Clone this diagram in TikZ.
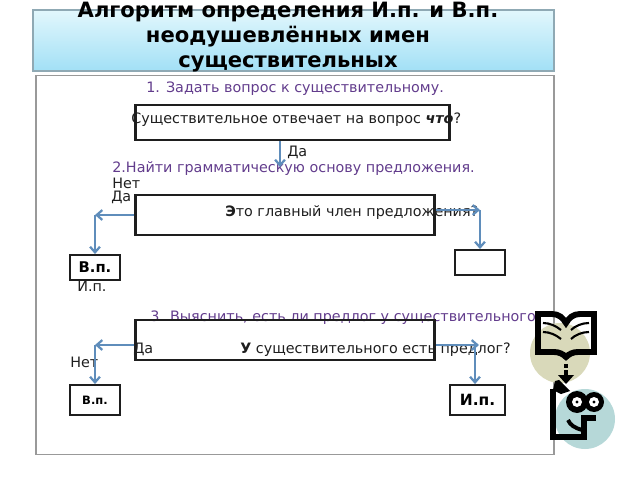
\documentclass[tikz,border=0pt]{standalone}
\usepackage{fontspec}
\setmainfont{DejaVu Sans}
\usetikzlibrary{arrows.meta}
\definecolor{stepcol}{HTML}{623C8C}
\definecolor{flowcol}{HTML}{5F8DBB}
\definecolor{inkcol}{HTML}{1E1E1E}
\definecolor{headtop}{HTML}{E2F7FC}
\definecolor{headbot}{HTML}{A2E0F6}
\definecolor{headedge}{HTML}{8FA9B4}
\definecolor{bookdisc}{HTML}{D9D9BA}
\definecolor{facedisc}{HTML}{B6D8D8}
\tikzset{
    frbox/.style = {draw = inkcol, line width = 1.8pt, minimum width = #1, minimum height = 35 * 0.7087pt, inner sep = 0pt},
    steptext/.style = {text = stepcol, font = \fontsize{10.2}{12}\selectfont, inner sep = 0pt, anchor = west, yshift = -1pt},
    lbl/.style = {text = inkcol, font = \fontsize{10.2}{12}\selectfont, inner sep = 0pt, anchor = west, yshift = -1pt},
    flow/.style = {draw = flowcol, line width = 1.6pt, -{Straight Barb[length = 4pt, width = 7pt]}}
}
\begin{document}
\begin{tikzpicture}[x = 0.025cm, y = -0.025cm, align = center]
    \useasboundingbox (0, 0) rectangle (640, 480);
    \node[minimum width = 523 * 0.7087pt, minimum height = 61 * 0.7087pt, draw = headedge, line width = 1.1pt, top color = headtop, bottom color = headbot, inner sep = 0pt] (header) at (293.5, 40.5) {};
    \node[minimum width = 520 * 0.7087pt, minimum height = 380 * 0.7087pt, draw = gray!80, line width = 0.9pt, inner sep = 0pt] (panel) at (295, 265) {};
    \node[text = black, font = \bfseries\fontsize{15}{17.7}\selectfont, inner sep = 0pt] (title) at (288, 37) {Алгоритм определения И.п. и В.п.\\неодушевлённых имен\\существительных};

    \node[steptext] (step1) at (146, 87) {1. Задать вопрос к существительному.};
    \node[frbox = 315 * 0.7087pt] (box1) at (292.5, 122.5) {};
    \node[lbl] (q1) at (131, 118) {Существительное отвечает на вопрос \textbf{\textit{что}}?};
    \node[lbl] (yes1) at (287, 151) {Да};
    \node[steptext] (step2) at (112, 167) {2.Найти грамматическую основу предложения.};
    \coordinate (arr1) at (280, 167);
    \draw[flow] (arr1 |- box1.south) -- (arr1);

    \node[lbl] (no2) at (112, 182) {Нет};
    \node[lbl] (yes2) at (111, 196) {Да};
    \node[frbox = 300 * 0.7087pt, minimum height = 40 * 0.7087pt] (box2) at (285, 215) {};
    \node[lbl] (q2) at (225, 211) {\textbf{Э}то главный член предложения?};
    \node[frbox = 50 * 0.7087pt, minimum height = 25 * 0.7087pt, line width = 1.4pt] (blank) at (480, 262.5) {};
    \node[frbox = 50 * 0.7087pt, minimum height = 25 * 0.7087pt, line width = 1.4pt, font = \bfseries\fontsize{10.5}{12}\selectfont] (vp1) at (95, 267.5) {В.п.};
    \node[lbl] (ip1) at (77, 285) {И.п.};
    \coordinate (left2) at (95, 215);
    \coordinate (right2) at (480, 210);
    \draw[flow] (box2.west) -- (left2);
    \draw[flow] (left2) -- (vp1.north);
    \draw[flow] (box2.east |- right2) -- (right2);
    \draw[flow] (right2) -- (blank.north);

    \node[steptext] (step3) at (150, 316) {3. Выяснить, есть ли предлог у существительного};
    \node[frbox = 300 * 0.7087pt, minimum height = 40 * 0.7087pt] (box3) at (285, 340) {};
    \node[lbl] (yes3) at (133, 348) {Да};
    \node[lbl] (q3) at (240, 348) {\textbf{У} существительного есть предлог?};
    \node[lbl] (no3) at (70, 361) {Нет};
    \node[frbox = 50 * 0.7087pt, minimum height = 30 * 0.7087pt, line width = 1.4pt, font = \bfseries\fontsize{8.2}{10}\selectfont] (vp2) at (95, 400) {В.п.};
    \node[frbox = 55 * 0.7087pt, minimum height = 30 * 0.7087pt, line width = 1.4pt, font = \bfseries\fontsize{11}{13}\selectfont] (ip2) at (477.5, 400) {И.п.};
    \coordinate (left3) at (95, 345);
    \coordinate (right3) at (479, 345);
    \coordinate (down3) at (475, 345);
    \draw[flow] (box3.west |- left3) -- (left3);
    \draw[flow] (left3) -- (vp2.north);
    \draw[flow] (box3.east |- right3) -- (right3);
    \draw[flow] (down3) -- (down3 |- ip2.north);

    % book
    \fill[bookdisc] (560, 353) circle (30);
    \draw[black, line width = 4.2pt, line join = miter] (538, 314) -- (552, 314) .. controls (559, 314) and (563, 318) .. (566, 323) .. controls (569, 318) and (573, 314) .. (580, 314) -- (594, 314) -- (594, 352) -- (578, 352) .. controls (573, 352) and (569, 354) .. (566, 357) .. controls (563, 354) and (559, 352) .. (554, 352) -- (538, 352) -- cycle;
    \draw[black, line width = 1.5pt] (543, 323) .. controls (550, 323) and (556, 326) .. (561, 330) (543, 332) .. controls (550, 332) and (556, 335) .. (561, 339) (589, 323) .. controls (582, 323) and (575, 326) .. (571, 330) (589, 332) .. controls (582, 332) and (575, 335) .. (571, 339);
    \draw[black, line width = 3pt, dash pattern = on 3pt off 1.5pt] (566, 364) -- (566, 376);
    \fill[black] (558, 375) -- (574, 375) -- (566, 384) -- cycle;

    % face
    \fill[facedisc] (585, 419) circle (30);
    \draw[black, line width = 4pt] (553, 389) -- (553, 437) -- (584, 437) -- (584, 418) -- (596, 418);
    \fill[black] (555, 381) -- (559, 380) -- (570, 391) -- (561, 394) -- (553, 390) -- cycle;
    \fill[black] (577, 402) circle (11);
    \fill[black] (594, 402) circle (10);
    \fill[white] (577, 402) circle (5);
    \fill[white] (594, 402) circle (5);
    \fill[black] (577, 402) circle (1.7);
    \fill[black] (594, 402) circle (1.7);
    \draw[black, line width = 2.8pt] (568, 420) .. controls (570, 425) and (575, 428) .. (582, 430);
\end{tikzpicture}
\end{document}
